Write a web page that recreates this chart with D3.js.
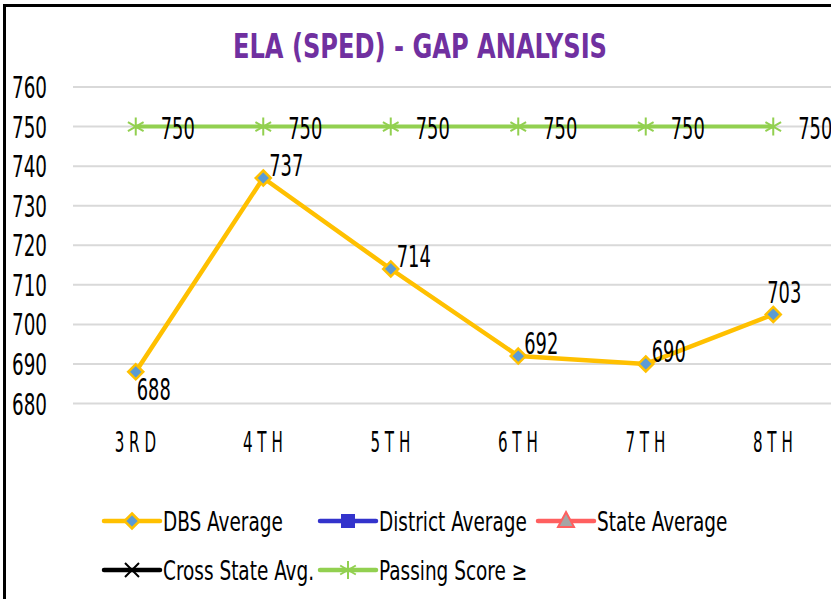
<!DOCTYPE html>
<html>
<head>
<meta charset="utf-8">
<script src="https://cdn.jsdelivr.net/npm/d3@7"></script>
<style>
  body { margin: 0; background: #fff; }
  svg text { font-family: 'DejaVu Sans Condensed', 'DejaVu Sans', sans-serif; font-stretch: condensed; }
</style>
</head>
<body>
<div id="chart"></div>
<script>
// chart values
var grades = ["3RD", "4TH", "5TH", "6TH", "7TH", "8TH"];
var dbsAverage = [688, 737, 714, 692, 690, 702.5];
var passingScore = [750, 750, 750, 750, 750, 750];
var yTicks = [680, 690, 700, 710, 720, 730, 740, 750, 760];
var legendNames = ["DBS Average", "District Average", "State Average", "Cross State Avg.", "Passing Score \u2265"];

var svgWidth = 831;
var svgHeight = 599;

var svg = d3.select("#chart")
  .append("svg")
  .attr("width", svgWidth)
  .attr("height", svgHeight);

// outer frame (only top and left edges are visible)
svg.append("rect")
  .attr("x", 4.5).attr("y", 5.5)
  .attr("width", 900).attr("height", 700)
  .attr("fill", "none")
  .attr("stroke", "#000")
  .attr("stroke-width", 3);

// squeeze text horizontally to mimic the narrow font
function squeeze(sel, x, y, sx) {
  sel.attr("transform", `translate(${x},${y}) scale(${sx},1)`);
  return sel;
}

// title
svg.append("text")
  .attr("x", 420).attr("y", 58)
  .attr("text-anchor", "middle")
  .attr("textLength", 374)
  .attr("lengthAdjust", "spacingAndGlyphs")
  .style("font-size", "33px")
  .style("font-weight", "bold")
  .style("fill", "#7030a0")
  .text("ELA (SPED) - GAP ANALYSIS");

var xScale = d3.scalePoint()
  .domain(grades)
  .range([72, 837])
  .padding(0.5);

var yScale = d3.scaleLinear()
  .domain([680, 760])
  .range([403.5, 87]);

// gridlines
svg.append("g")
  .selectAll("line")
  .data(yTicks)
  .enter()
  .append("line")
  .attr("x1", 73).attr("x2", 831)
  .attr("y1", d => yScale(d)).attr("y2", d => yScale(d))
  .attr("stroke", "#d9d9d9")
  .attr("stroke-width", 2);

// y labels
svg.append("g")
  .selectAll("text")
  .data(yTicks)
  .enter()
  .append("text")
  .attr("text-anchor", "end")
  .style("font-size", "30px")
  .style("fill", "#000")
  .each(function(d) { squeeze(d3.select(this), 47, yScale(d) + 11, 0.68); })
  .text(d => d);

// x labels
svg.append("g")
  .selectAll("text")
  .data(grades)
  .enter()
  .append("text")
  .attr("text-anchor", "middle")
  .style("font-size", "28px")
  .style("letter-spacing", "8px")
  .style("fill", "#000")
  .each(function(d) { squeeze(d3.select(this), xScale(d) + 2, 452, 0.6); })
  .text(d => d);

var line = d3.line()
  .x((d, i) => xScale(grades[i]))
  .y(d => yScale(d));

// passing score line
svg.append("path")
  .datum(passingScore)
  .attr("d", line)
  .attr("fill", "none")
  .attr("stroke", "#92d050")
  .attr("stroke-width", 4);

// DBS line
svg.append("path")
  .datum(dbsAverage)
  .attr("d", line)
  .attr("fill", "none")
  .attr("stroke", "#ffc000")
  .attr("stroke-width", 4.5)
  .attr("stroke-linejoin", "round");

function asterisk(g, x, y, r, color) {
  var p = `M${x},${y - r}L${x},${y + r}`
    + `M${x - r * 0.87},${y - r * 0.5}L${x + r * 0.87},${y + r * 0.5}`
    + `M${x - r * 0.87},${y + r * 0.5}L${x + r * 0.87},${y - r * 0.5}`;
  g.append("path").attr("d", p).attr("stroke", color).attr("stroke-width", 2).attr("fill", "none");
}
function diamond(g, x, y, r) {
  g.append("path")
    .attr("d", `M${x},${y - r}L${x + r},${y}L${x},${y + r}L${x - r},${y}Z`)
    .attr("fill", "#5b9bd5")
    .attr("stroke", "#ffc000")
    .attr("stroke-width", 2.5);
}

// passing markers and labels
var passG = svg.append("g");
passingScore.forEach(function(v, i) {
  asterisk(passG, xScale(grades[i]), yScale(v), 9, "#92d050");
});
passG.selectAll("text")
  .data(passingScore)
  .enter()
  .append("text")
  .style("font-size", "31px")
  .style("fill", "#000")
  .each(function(d, i) { squeeze(d3.select(this), xScale(grades[i]) + 25, yScale(d) + 12, 0.64); })
  .text(d => d);

// DBS markers and labels
var dbsG = svg.append("g");
dbsAverage.forEach(function(v, i) {
  diamond(dbsG, xScale(grades[i]), yScale(v), 7.5);
});
var last = dbsAverage.length - 1;
dbsG.selectAll("text")
  .data(dbsAverage)
  .enter()
  .append("text")
  .style("font-size", "31px")
  .style("fill", "#000")
  .attr("text-anchor", (d, i) => i === last ? "middle" : "start")
  .each(function(d, i) {
    var x = xScale(grades[i]), y = yScale(d);
    if (i === 0) squeeze(d3.select(this), x + 1, y + 28, 0.64);
    else if (i === last) squeeze(d3.select(this), x + 11, y - 11, 0.64);
    else squeeze(d3.select(this), x + 6, y - 2, 0.64);
  })
  .text(d => Math.round(d));

// legend
var legendItems = [
  { x: 104, y: 521, color: "#ffc000", marker: "diamond" },
  { x: 320, y: 521, color: "#3333cc", marker: "square" },
  { x: 538, y: 521, color: "#ff5f5f", marker: "triangle" },
  { x: 104, y: 570, color: "#000000", marker: "x" },
  { x: 320, y: 570, color: "#92d050", marker: "asterisk" }
];
var legend = svg.append("g");
legendItems.forEach(function(item, i) {
  var cx = item.x + 28;
  legend.append("line")
    .attr("x1", item.x).attr("x2", item.x + 56)
    .attr("y1", item.y).attr("y2", item.y)
    .attr("stroke", item.color)
    .attr("stroke-width", 4.5)
    .attr("stroke-linecap", "round");
  if (item.marker === "diamond") diamond(legend, cx, item.y, 7.5);
  if (item.marker === "square") {
    legend.append("rect")
      .attr("x", cx - 7).attr("y", item.y - 7)
      .attr("width", 14).attr("height", 14)
      .attr("fill", "#3333cc");
  }
  if (item.marker === "triangle") {
    legend.append("path")
      .attr("d", `M${cx},${item.y - 9}L${cx + 8},${item.y + 6}L${cx - 8},${item.y + 6}Z`)
      .attr("fill", "#a5a5a5")
      .attr("stroke", "#ff5f5f")
      .attr("stroke-width", 2);
  }
  if (item.marker === "x") {
    legend.append("path")
      .attr("d", `M${cx - 7},${item.y - 7}L${cx + 7},${item.y + 7}M${cx - 7},${item.y + 7}L${cx + 7},${item.y - 7}`)
      .attr("stroke", "#000")
      .attr("stroke-width", 2);
  }
  if (item.marker === "asterisk") asterisk(legend, cx, item.y, 9, "#92d050");
  squeeze(legend.append("text"), item.x + 59, item.y + 10, 0.79)
    .style("font-size", "26px")
    .style("fill", "#000")
    .text(legendNames[i]);
});
</script>
</body>
</html>
